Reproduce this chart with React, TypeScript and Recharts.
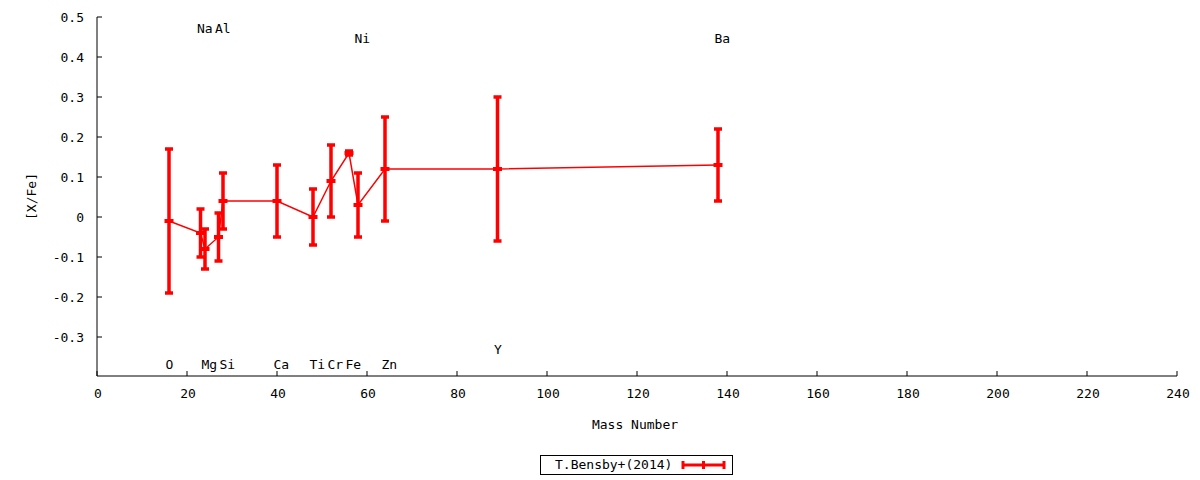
import { ComposedChart, Line, ErrorBar, Scatter, XAxis, YAxis, Label } from 'recharts'

const masses = [16, 23, 24, 27, 28, 40, 48, 52, 56, 58, 64, 89, 138]
const values = [-0.01, -0.04, -0.08, -0.05, 0.04, 0.04, 0.0, 0.09, 0.16, 0.03, 0.12, 0.12, 0.13]
const errors = [0.18, 0.06, 0.05, 0.06, 0.07, 0.09, 0.07, 0.09, 0.005, 0.08, 0.13, 0.18, 0.09]

const elementNames = ['O', 'Na', 'Mg', 'Al', 'Si', 'Ca', 'Ti', 'Cr', 'Fe', 'Ni', 'Zn', 'Y', 'Ba']
const labelPositions = [-0.368, 0.473, -0.368, 0.473, -0.368, -0.368, -0.368, -0.368, -0.368, 0.448, -0.368, -0.33, 0.448]

const xTicks = [0, 20, 40, 60, 80, 100, 120, 140, 160, 180, 200, 220, 240]
const yTicks = [-0.3, -0.2, -0.1, 0, 0.1, 0.2, 0.3, 0.4, 0.5]

const RED = '#ff0000'
const FONT = '"DejaVu Sans Mono", monospace'

const data = masses.map((m, i) => ({ mass: m, value: values[i], err: errors[i] }))
const labelData = masses.map((m, i) => ({ mass: m, pos: labelPositions[i], name: elementNames[i] }))

function BottomTick({ x, y, payload }: any) {
  return (
    <g>
      <line x1={x} y1={y} x2={x} y2={y - 5} stroke="#000" />
      <text x={x + 1} y={y + 22} textAnchor="middle" fontFamily={FONT} fontSize={13} fill="#000">
        {payload.value}
      </text>
    </g>
  )
}

function LeftTick({ x, y, payload }: any) {
  return (
    <g>
      <line x1={x} y1={y} x2={x + 5} y2={y} stroke="#000" />
      <text x={x - 13} y={y + 5} textAnchor="end" fontFamily={FONT} fontSize={13} fill="#000">
        {String(payload.value)}
      </text>
    </g>
  )
}

function TopTick({ x, y }: any) {
  return <line x1={x} y1={y} x2={x} y2={y + 5} stroke="#000" />
}

function RightTick({ x, y }: any) {
  return <line x1={x} y1={y} x2={x - 5} y2={y} stroke="#000" />
}

function PointMark({ cx, cy, index }: any) {
  return <rect key={`pt-${index}`} x={cx - 4.5} y={cy - 2} width={9} height={4} fill={RED} />
}

function ElementLabel({ cx, cy, payload }: any) {
  return (
    <text x={cx - 3.5} y={cy + 5} fontFamily={FONT} fontSize={13} fill="#000">
      {payload.name}
    </text>
  )
}

export default function App() {
  return (
    <div style={{ position: 'absolute', left: 0, top: 0, width: 1200, height: 480, background: '#fff' }}>
      <ComposedChart width={1200} height={480} data={data} margin={{ top: 17, right: 23, bottom: 0, left: 0 }}>
        <XAxis
          dataKey="mass"
          type="number"
          domain={[0, 240]}
          ticks={xTicks}
          allowDataOverflow
          height={104}
          tickSize={0}
          tickMargin={0}
          tickLine={false}
          tick={<BottomTick />}
          axisLine={{ stroke: '#000' }}
        >
          <Label
            content={({ viewBox }: any) => (
              <text
                x={viewBox.x + viewBox.width / 2 - 2}
                y={viewBox.y + 53}
                textAnchor="middle"
                fontFamily={FONT}
                fontSize={13}
                fill="#000"
              >
                Mass Number
              </text>
            )}
          />
        </XAxis>
        <XAxis
          xAxisId="top"
          orientation="top"
          dataKey="mass"
          type="number"
          domain={[0, 240]}
          ticks={xTicks}
          allowDataOverflow
          height={0}
          tickSize={0}
          tickMargin={0}
          tickLine={false}
          tick={<TopTick />}
          axisLine={{ stroke: '#000' }}
        />
        <YAxis
          type="number"
          domain={[-0.3975, 0.5]}
          ticks={yTicks}
          allowDataOverflow
          width={97}
          tickSize={0}
          tickMargin={0}
          tickLine={false}
          tick={<LeftTick />}
          axisLine={{ stroke: '#000' }}
        >
          <Label
            content={({ viewBox }: any) => (
              <text
                x={32}
                y={viewBox.y + viewBox.height / 2}
                transform={`rotate(-90, 32, ${viewBox.y + viewBox.height / 2})`}
                textAnchor="middle"
                dominantBaseline="middle"
                fontFamily={FONT}
                fontSize={13}
                fill="#000"
              >
                [X/Fe]
              </text>
            )}
          />
        </YAxis>
        <YAxis
          yAxisId="right"
          orientation="right"
          dataKey="pos"
          type="number"
          domain={[-0.3975, 0.5]}
          ticks={yTicks}
          allowDataOverflow
          width={0}
          tickSize={0}
          tickMargin={0}
          tickLine={false}
          tick={<RightTick />}
          axisLine={{ stroke: '#000' }}
        />
        <Line
          dataKey="value"
          stroke={RED}
          strokeWidth={1.5}
          dot={PointMark}
          activeDot={false}
          isAnimationActive={false}
        >
          <ErrorBar dataKey="err" direction="y" width={4} strokeWidth={3.5} stroke={RED} isAnimationActive={false} />
        </Line>
        <Scatter
          data={labelData}
          dataKey="pos"
          xAxisId="top"
          yAxisId="right"
          shape={ElementLabel}
          isAnimationActive={false}
        />
      </ComposedChart>
      <svg
        width={1200}
        height={480}
        style={{ position: 'absolute', left: 0, top: 0, pointerEvents: 'none' }}
      >
        <rect x={540.5} y={455.5} width={192} height={19} fill="none" stroke="#000" />
        <text x={555} y={469} fontFamily={FONT} fontSize={13} fill="#000">
          T.Bensby+(2014)
        </text>
        <line x1={683} y1={465} x2={724} y2={465} stroke={RED} strokeWidth={3} />
        <line x1={683} y1={461} x2={683} y2={469} stroke={RED} strokeWidth={3} />
        <line x1={724} y1={461} x2={724} y2={469} stroke={RED} strokeWidth={3} />
        <line x1={703.5} y1={461} x2={703.5} y2={469} stroke={RED} strokeWidth={3} />
      </svg>
    </div>
  )
}
